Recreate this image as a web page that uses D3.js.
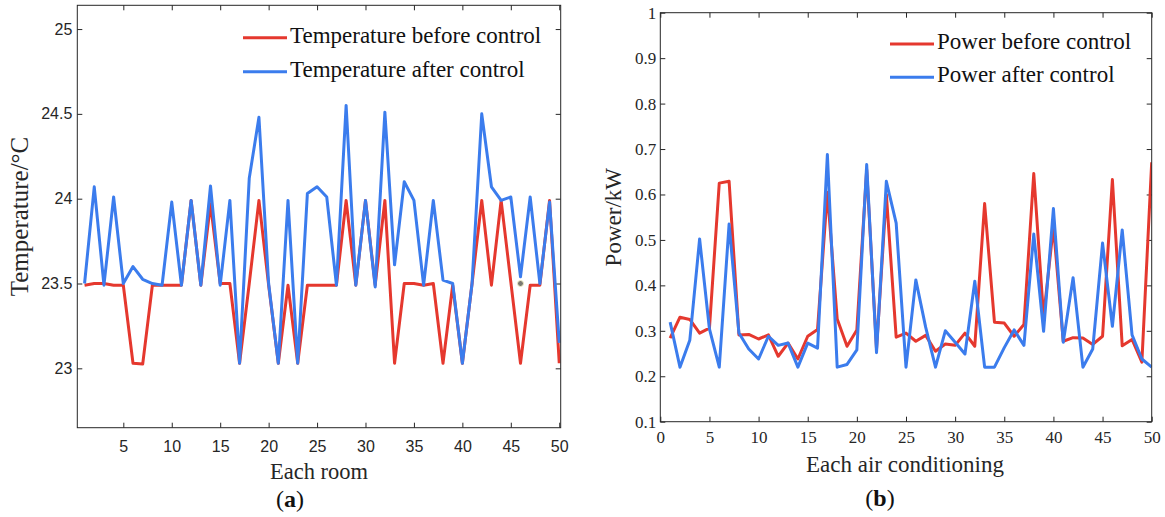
<!DOCTYPE html>
<html>
<head>
<meta charset="utf-8">
<script src="https://cdn.jsdelivr.net/npm/d3@7"></script>
<style>
  body { margin: 0; background: #fff; }
  svg { display: block; }
  .frame { fill: none; stroke: #262626; stroke-width: 1; }
  .tick line { stroke: #262626; }
  .sans text { font-family: "Liberation Sans", Arial, sans-serif; font-size: 16px; fill: #262626; }
  .serif text { font-family: "Liberation Serif", "Times New Roman", serif; font-size: 17px; fill: #262626; }
  .label { font-family: "Liberation Serif", "Times New Roman", serif; fill: #262626; }
</style>
</head>
<body>
<main></main>
<script>
// x index for both panels
const units = [1, 2, 3, 4, 5, 6, 7, 8, 9, 10, 11, 12, 13, 14, 15, 16, 17, 18, 19, 20,
  21, 22, 23, 24, 25, 26, 27, 28, 29, 30, 31, 32, 33, 34, 35, 36, 37, 38, 39, 40,
  41, 42, 43, 44, 45, 46, 47, 48, 49, 50];

// (a) room temperature
const tempBefore = [23.49, 23.5, 23.5, 23.49, 23.49, 23.03, 23.025, 23.49, 23.49, 23.49,
  23.49, 23.99, 23.49, 23.97, 23.5, 23.5, 23.03, 23.5, 23.99, 23.49,
  23.03, 23.49, 23.03, 23.49, 23.49, 23.49, 23.49, 23.99, 23.49, 23.99,
  23.49, 23.99, 23.03, 23.5, 23.5, 23.49, 23.5, 23.03, 23.49, 23.03,
  23.5, 23.99, 23.49, 23.99, 23.51, 23.03, 23.49, 23.49, 23.99, 23.03];
const tempAfter = [23.5, 24.07, 23.49, 24.01, 23.5, 23.6, 23.525, 23.5, 23.49, 23.98,
  23.49, 23.99, 23.49, 24.075, 23.49, 23.99, 23.03, 24.12, 24.48, 23.5,
  23.03, 23.99, 23.03, 24.03, 24.07, 24.01, 23.49, 24.55, 23.49, 23.99,
  23.48, 24.51, 23.61, 24.1, 23.99, 23.49, 23.99, 23.52, 23.5, 23.03,
  23.5, 24.5, 24.07, 23.99, 24.01, 23.54, 24.01, 23.5, 23.98, 23.15];
const tempTicksX = [5, 10, 15, 20, 25, 30, 35, 40, 45, 50];
const tempTicksY = [23, 23.5, 24, 24.5, 25];
const tempMarker = [46, 23.5];

// (b) air conditioning power
const powerBefore = [0.284, 0.33, 0.325, 0.295, 0.306, 0.625, 0.629, 0.291, 0.292, 0.282,
  0.291, 0.244, 0.273, 0.238, 0.288, 0.303, 0.605, 0.326, 0.266, 0.302,
  0.655, 0.26, 0.6, 0.286, 0.295, 0.277, 0.29, 0.255, 0.271, 0.268,
  0.295, 0.266, 0.58, 0.319, 0.317, 0.288, 0.314, 0.646, 0.33, 0.53,
  0.277, 0.285, 0.284, 0.27, 0.288, 0.633, 0.267, 0.281, 0.231, 0.671];
const powerAfter = [0.319, 0.22, 0.279, 0.502, 0.304, 0.22, 0.535, 0.295, 0.26, 0.238,
  0.288, 0.268, 0.273, 0.22, 0.273, 0.262, 0.688, 0.22, 0.226, 0.258,
  0.666, 0.252, 0.629, 0.537, 0.22, 0.412, 0.308, 0.22, 0.3, 0.275,
  0.249, 0.409, 0.22, 0.22, 0.263, 0.302, 0.268, 0.513, 0.299, 0.569,
  0.275, 0.417, 0.22, 0.26, 0.493, 0.31, 0.522, 0.291, 0.238, 0.22];
const powerTicksX = [0, 5, 10, 15, 20, 25, 30, 35, 40, 45, 50];
const powerTicksY = [0.1, 0.2, 0.3, 0.4, 0.5, 0.6, 0.7, 0.8, 0.9, 1];

const red = '#e5382e';
const blue = '#3b7ced';

const svg = d3
  .select('main')
  .append('svg')
  .attr('width', 1165)
  .attr('height', 517);

svg.append('rect').attr('width', 1165).attr('height', 517).attr('fill', '#fff');

function drawPanel(p) {
  const x = d3.scaleLinear().domain(p.xDomain).range([p.left, p.right]);
  const y = d3.scaleLinear().domain(p.yDomain).range([p.bottom, p.top]);

  const fmtX = p.xFormat || (d => d);
  const fmtY = p.yFormat || (d => d);

  svg.append('g')
    .attr('class', p.fontClass)
    .attr('transform', `translate(0, ${p.bottom})`)
    .call(d3.axisBottom(x).tickValues(p.ticksX).tickFormat(fmtX)
      .tickSizeInner(-5).tickSizeOuter(0).tickPadding(p.xPad))
    .call(g => g.select('.domain').remove());

  svg.append('g')
    .attr('transform', `translate(0, ${p.top})`)
    .call(d3.axisTop(x).tickValues(p.ticksX).tickFormat('')
      .tickSizeInner(-5).tickSizeOuter(0))
    .call(g => g.select('.domain').remove());

  svg.append('g')
    .attr('class', p.fontClass)
    .attr('transform', `translate(${p.left}, 0)`)
    .call(d3.axisLeft(y).tickValues(p.ticksY).tickFormat(fmtY)
      .tickSizeInner(-5).tickSizeOuter(0).tickPadding(p.yPad))
    .call(g => g.select('.domain').remove());

  svg.append('g')
    .attr('transform', `translate(${p.right}, 0)`)
    .call(d3.axisRight(y).tickValues(p.ticksY).tickFormat('')
      .tickSizeInner(-5).tickSizeOuter(0))
    .call(g => g.select('.domain').remove());

  const clipId = 'clip-' + p.id;
  svg.append('clipPath').attr('id', clipId)
    .append('rect')
    .attr('x', p.left).attr('y', p.top)
    .attr('width', p.right - p.left).attr('height', p.bottom - p.top);

  const line = d3.line()
    .x((d, i) => x(units[i]))
    .y(d => y(d));

  p.series.forEach(s => {
    svg.append('path')
      .datum(s.values)
      .attr('clip-path', `url(#${clipId})`)
      .attr('fill', 'none')
      .attr('stroke', s.color)
      .attr('stroke-width', 3)
      .attr('stroke-linejoin', 'round')
      .attr('d', line);
  });

  if (p.marker) {
    svg.append('circle')
      .attr('cx', x(p.marker[0]))
      .attr('cy', y(p.marker[1]))
      .attr('r', 3)
      .attr('fill', '#7a7a72')
      .attr('stroke', '#f3f1c8')
      .attr('stroke-width', 1);
  }

  svg.append('rect')
    .attr('class', 'frame')
    .attr('x', p.left).attr('y', p.top)
    .attr('width', p.right - p.left).attr('height', p.bottom - p.top);

  // legend
  p.series.forEach((s, i) => {
    const ly = p.legendY + i * p.legendGap;
    svg.append('line')
      .attr('x1', p.legendX).attr('x2', p.legendX + 44)
      .attr('y1', ly).attr('y2', ly)
      .attr('stroke', s.color).attr('stroke-width', 3);
    svg.append('text')
      .attr('class', 'label')
      .attr('x', p.legendX + 47)
      .attr('y', ly + 5)
      .style('font-size', '23px')
      .style('fill', '#111')
      .text(s.name);
  });

  svg.append('text')
    .attr('class', 'label')
    .attr('x', p.xLabelX)
    .attr('y', p.xLabelY)
    .attr('text-anchor', 'middle')
    .style('font-size', p.xLabelSize)
    .text(p.xLabel);

  svg.append('text')
    .attr('class', 'label')
    .attr('transform', `translate(${p.yLabelX}, ${(p.top + p.bottom) / 2}) rotate(-90)`)
    .attr('text-anchor', 'middle')
    .style('font-size', p.yLabelSize)
    .text(p.yLabel);

  const cap = svg.append('text')
    .attr('class', 'label')
    .attr('x', p.capX)
    .attr('y', p.capY)
    .attr('text-anchor', 'middle')
    .style('font-size', '24px')
    .style('fill', '#111');
  cap.append('tspan').text('(');
  cap.append('tspan').attr('font-weight', 'bold').text(p.caption);
  cap.append('tspan').text(')');
}

drawPanel({
  id: 'a',
  left: 77.3, right: 560.7, top: 5.3, bottom: 427.7,
  xDomain: [0.25, 50.15], yDomain: [22.65, 25.14],
  ticksX: tempTicksX, ticksY: tempTicksY,
  fontClass: 'sans', xPad: 13, yPad: 5,
  series: [
    { name: 'Temperature before control', values: tempBefore, color: red },
    { name: 'Temperature after control', values: tempAfter, color: blue }
  ],
  marker: tempMarker,
  legendX: 243, legendY: 37.7, legendGap: 34,
  xLabel: 'Each room', xLabelX: 319, xLabelY: 479, xLabelSize: '22.5px',
  yLabel: 'Temperature/°C', yLabelX: 28, yLabelSize: '25px',
  caption: 'a', capX: 290, capY: 507
});

drawPanel({
  id: 'b',
  left: 660.3, right: 1151.7, top: 12.7, bottom: 421.7,
  xDomain: [0, 50], yDomain: [0.1, 1],
  ticksX: powerTicksX, ticksY: powerTicksY,
  fontClass: 'serif', xPad: 9, yPad: 4,
  series: [
    { name: 'Power before control', values: powerBefore, color: red },
    { name: 'Power after control', values: powerAfter, color: blue }
  ],
  legendX: 890, legendY: 44, legendGap: 33.3,
  xLabel: 'Each air conditioning', xLabelX: 905, xLabelY: 472, xLabelSize: '23px',
  yLabel: 'Power/kW', yLabelX: 621, yLabelSize: '23px',
  caption: 'b', capX: 880, capY: 506
});
</script>
</body>
</html>
